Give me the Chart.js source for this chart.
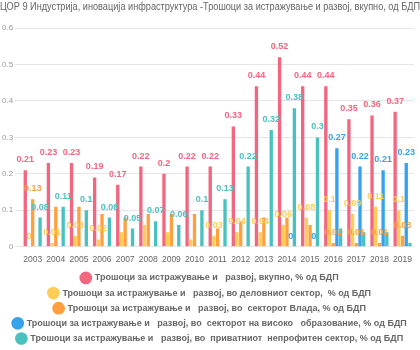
<!DOCTYPE html>
<html>
<head>
<meta charset="utf-8">
<script src="https://cdn.jsdelivr.net/npm/chart.js@4.4.0/dist/chart.umd.min.js"></script>
<style>
html,body{margin:0;padding:0;background:#fff;}
#wrap{width:420px;height:350px;position:relative;}
</style>
</head>
<body>
<div id="wrap"><canvas id="c"></canvas></div>
<script>
const years = ['2003','2004','2005','2006','2007','2008','2009','2010','2011','2012','2013','2014','2015','2016','2017','2018','2019'];
const totalRD =      [0.21,0.23,0.23,0.19,0.17,0.22,0.2,0.22,0.22,0.33,0.44,0.52,0.44,0.44,0.35,0.36,0.37];
const businessRD =   [0,0.01,0.03,0.02,0.04,0.06,0.04,0.02,0.03,0.04,0.04,0.06,0.08,0.1,0.09,0.11,0.1];
const governmentRD = [0.13,0.11,0.11,0.09,0.08,0.09,0.09,0.09,0.05,0.07,0.08,0.08,0.06,0.01,0.01,0.01,0.03];
const higherEduRD =  [null,null,null,null,null,null,null,null,null,null,null,0,0,0.27,0.22,0.21,0.23];
const nonProfitRD =  [0.08,0.11,0.1,0.08,0.05,0.07,0.06,0.1,0.13,0.22,0.32,0.38,0.3,0.05,0.04,0.04,0.01];
const yTicks = [0,0.1,0.2,0.3,0.4,0.5,0.6];
const seriesNames = [
  'Трошоци за истражување и   развој, вкупно, % од БДП',
  'Трошоци за истражување и   развој, во деловниот сектор,  % од БДП',
  'Трошоци за истражување и   развој, во  секторот Влада, % од БДП',
  'Трошоци за истражување и   развој, во  секторот на високо   образование, % од БДП',
  'Трошоци за истражување и   развој, во  приватниот  непрофитен сектор, % од БДП'
];
const titleText = 'ЦОР 9 Индустрија, иновација инфраструктура -Трошоци за истражување и развој, вкупно, од БДП';

const colors = ['rgb(242, 102, 128)','rgb(255, 205, 86)','rgb(255, 159, 64)','rgb(54, 162, 235)','rgb(75, 192, 192)'];
const seriesData = [totalRD, businessRD, governmentRD, higherEduRD, nonProfitRD];

const FONT = "'Liberation Sans', Arial, sans-serif";

const valueLabels = {
  id: 'valueLabels',
  afterDatasetsDraw(chart) {
    const ctx = chart.ctx;
    ctx.save();
    ctx.font = 'bold 9px ' + FONT;
    const items = [];
    chart.data.datasets.forEach((ds, di) => {
      const meta = chart.getDatasetMeta(di);
      if (!chart.isDatasetVisible(di)) return;
      meta.data.forEach((bar, i) => {
        const v = ds.data[i];
        if (v === null || v === undefined) return;
        const text = String(v);
        const w = ctx.measureText(text).width;
        items.push({di, i, text, x: bar.x, y: bar.y - 10.5, w, color: ds.backgroundColor});
      });
    });
    items.sort((a, b) => (a.i - b.i) || (a.di - b.di));
    const PX = 1.5, PY = 3, H = 11;
    const shown = [];
    for (const it of items) {
      const b = {l: it.x - it.w / 2 - PX, r: it.x + it.w / 2 + PX, t: it.y - H / 2 - PY, bt: it.y + H / 2 + PY};
      if (shown.some(s => b.l < s.b.r && b.r > s.b.l && b.t < s.b.bt && b.bt > s.b.t)) continue;
      shown.push({it, b});
    }
    ctx.textAlign = 'center';
    ctx.textBaseline = 'middle';
    for (const s of shown) {
      ctx.fillStyle = s.it.color;
      ctx.fillText(s.it.text, s.it.x, s.it.y);
    }
    ctx.restore();
  }
};

new Chart(document.getElementById('c'), {
  type: 'bar',
  data: {
    labels: years,
    datasets: seriesData.map((d, k) => ({
      label: seriesNames[k],
      data: d,
      backgroundColor: colors[k],
      borderWidth: 0,
      categoryPercentage: 0.8,
      barPercentage: 0.9
    }))
  },
  options: {
    responsive: true,
    maintainAspectRatio: false,
    animation: false,
    layout: {padding: {left: 0, right: 0, top: 0, bottom: -3}},
    plugins: {
      title: {
        display: true,
        text: titleText,
        color: '#666',
        font: {family: FONT, size: 10, weight: 'normal'},
        padding: {top: 1, bottom: 15}
      },
      legend: {
        position: 'bottom',
        labels: {
          usePointStyle: true,
          pointStyle: 'circle',
          color: '#666',
          font: {family: FONT, size: 9, weight: 'bold'},
          padding: 6.15
        }
      },
      tooltip: {enabled: false}
    },
    scales: {
      x: {
        grid: {display: false, drawTicks: false},
        border: {display: false},
        ticks: {color: '#666', font: {family: FONT, size: 8.5}, padding: 8, maxRotation: 0, autoSkip: false},
        afterFit: (axis) => { axis.height = 20.5; }
      },
      y: {
        min: 0, max: 0.6,
        afterBuildTicks: (axis) => { axis.ticks = yTicks.map(v => ({value: v})); },
        grid: {color: '#e6e6e6', tickLength: 6},
        border: {display: false},
        ticks: {color: '#999', font: {family: FONT, size: 8}, padding: 2}
      }
    }
  },
  plugins: [valueLabels]
});
</script>
</body>
</html>
